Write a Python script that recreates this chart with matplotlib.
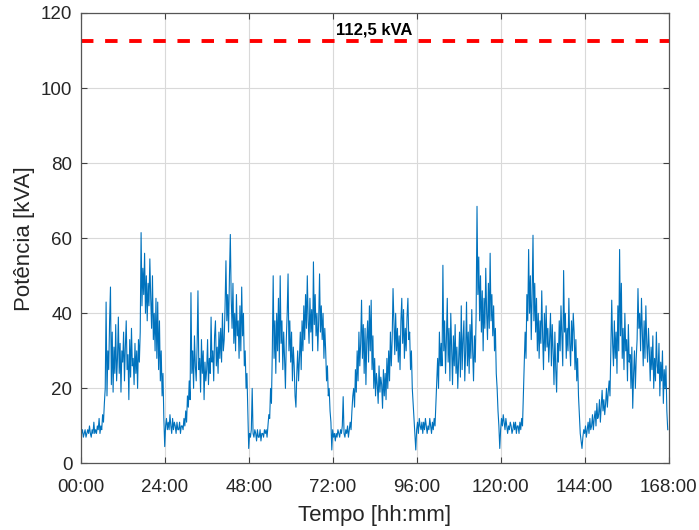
import numpy as np
import matplotlib
matplotlib.use("Agg")
import matplotlib.pyplot as plt

# Apparent power, 15-minute samples (4 per hour), one list per day
day1 = [11, 8, 9, 7, 8, 9, 7, 8, 9, 8, 10, 8, 7, 9, 8, 11, 8, 9, 8, 10, 9, 12, 8, 10,
        9, 13, 11, 16, 20, 43, 18, 30, 25, 38, 47, 21, 35, 19, 31, 24, 37, 22, 28, 39,
        24, 32, 19, 30, 27, 35, 22, 31, 38, 25, 29, 17, 33, 23, 36, 26, 28, 21, 32, 24,
        30, 20, 33, 27, 35, 61.5, 42, 52, 45, 56, 40, 50, 38, 48, 42, 54.5, 44, 36, 50, 33,
        40, 30, 44, 28, 43, 25, 38, 22, 30, 18, 24, 12]
day2 = [4.5, 10, 12, 9, 11, 9, 13, 10, 8, 12, 9, 11, 10, 8, 11, 9, 9, 11, 8, 10, 10, 9, 12, 10,
        14, 11, 18, 15, 22, 17, 45.5, 24, 30, 20, 34, 26, 22, 31, 46, 25, 28, 19, 33, 24,
        30, 17, 27, 22, 25, 33, 21, 28, 24, 39, 27, 30, 22, 34, 38, 26, 31, 24, 35, 28,
        36, 27, 40, 30, 33, 42, 54, 38, 45, 35, 50, 61, 44, 36, 48, 32, 40, 30, 45, 34,
        38, 28, 42, 30, 47, 34, 40, 26, 30, 20, 24, 14]
day3 = [4, 8, 7, 9, 20, 8, 7, 9, 8, 6, 9, 7, 7, 9, 6, 8, 8, 7, 9, 8, 9, 7, 10, 13,
        12, 20, 16, 30, 50, 28, 38, 24, 40, 30, 44, 27, 50, 32, 38, 25, 35, 28, 20, 33,
        40, 50.5, 30, 38, 27, 35, 22, 31, 26, 18, 15, 24, 30, 22, 28, 35, 25, 38, 30, 42,
        33, 45, 36, 50, 38, 32, 44, 35, 41, 30, 53.7, 37, 45, 34, 40, 30, 38, 50.5, 35, 42,
        33, 40, 28, 36, 30, 22, 26, 18, 20, 14, 11, 3.6]
day4 = [9, 7, 8, 6, 8, 7, 9, 8, 7, 9, 8, 10, 17.8, 8, 7, 9, 8, 10, 7, 9, 11, 9, 14, 18,
        20, 15, 25, 19, 30, 22, 35, 26, 32, 43.5, 28, 37, 24, 36, 21, 33, 38, 27, 42, 30,
        43.5, 25, 34, 20, 28, 18, 24, 21, 16, 26, 19, 23, 21, 14.7, 25, 18, 24, 17, 28, 20,
        30, 22, 35, 26, 33, 46.6, 38, 29, 40, 30, 36, 27, 34, 25, 38, 44, 32, 41, 28, 36,
        30, 39, 44, 33, 35, 25, 30, 20, 16, 12, 8, 3.6]
day5 = [9, 11, 8, 12, 10, 9, 11, 8, 11, 9, 12, 10, 8, 10, 9, 12, 10, 8, 11, 9, 12, 10, 16, 22,
        28, 20, 35, 26, 32, 26, 52.8, 30, 38, 24, 33, 44, 27, 36, 22, 40, 30, 21, 34, 26,
        37, 24, 31, 20, 28, 35, 23, 42, 25, 33, 38, 22, 30, 43, 26, 35, 24, 37, 28, 41,
        30, 22, 34, 27, 40, 68.5, 45, 55, 38, 50, 35, 46, 30, 44, 36, 52, 40, 33, 48, 36,
        56, 38, 45, 34, 42, 30, 36, 24, 20, 14, 10, 4]
day6 = [9, 12, 10, 13, 11, 9, 12, 10, 8, 10, 9, 11, 10, 8, 9, 11, 9, 11, 8, 10, 10, 8, 11, 9,
        12, 10, 18, 26, 35, 28, 45, 38, 57, 40, 50, 33, 45, 60.8, 38, 48, 35, 44, 30, 40,
        28, 38, 32, 46, 34, 25, 40, 30, 42, 31, 36, 27, 33, 40, 26, 37, 30, 21, 35, 25,
        19, 32, 27, 38, 30, 42, 34, 26, 51.4, 35, 40, 28, 36, 30, 44, 32, 26, 38, 30, 40,
        35, 25, 33, 22, 28, 18, 13, 8, 6, 4, 7, 9]
day7 = [8, 10, 7, 9, 11, 8, 12, 9, 10, 13, 9, 12, 14, 10, 16, 12, 13, 17, 11, 15, 19.5, 14, 17, 13,
        16, 20, 15, 19, 22, 18, 30, 43.5, 32, 26, 38, 28, 35, 24, 42, 30, 57, 34, 48, 28,
        36, 25, 40, 30, 33, 22, 37, 27, 29, 20, 31, 14.7, 24, 30, 20, 28, 33, 46.6, 36, 40,
        30, 44, 35, 26, 38, 28, 42, 32, 27, 36, 30, 22, 31, 25, 34, 20, 28, 22, 35, 26,
        24, 32, 18, 27, 22, 30, 16, 25, 20, 26, 14, 9]

power_kva = np.array(day1 + day2 + day3 + day4 + day5 + day6 + day7, dtype=float)
hours = np.arange(power_kva.size) * 0.25

transformer_kva = 112.5
transformer_label = "112,5 kVA"
x_ticks = list(range(0, 169, 24))
x_tick_labels = [f"{h:02d}:00" for h in x_ticks]
y_ticks = list(range(0, 121, 20))

plt.rcParams["font.family"] = ["Liberation Sans", "DejaVu Sans"]
text_color = "#262626"

fig = plt.figure(figsize=(6.99, 5.30), dpi=100)
ax = fig.add_axes([0.1155, 0.1255, 0.841, 0.85])

ax.plot(hours, power_kva, color="#0072BD", linewidth=0.8)
ax.axhline(transformer_kva, color="#FF0000", linewidth=2.8, dashes=(3.2, 3.0))
ax.text(84, transformer_kva + 1.0, transformer_label, ha="center", va="bottom",
        fontsize=12, fontweight="bold", color="black")

ax.set_xlim(0, 168)
ax.set_ylim(0, 120)
ax.set_xticks(x_ticks)
ax.set_xticklabels(x_tick_labels)
ax.set_yticks(y_ticks)
ax.grid(True, color="#d9d9d9", linewidth=0.8)
ax.set_axisbelow(True)

ax.tick_params(direction="in", length=4, width=0.8, colors="#404040",
               labelcolor=text_color, labelsize=13.5, top=True, right=True)
ax.tick_params(axis="x", pad=11)
ax.tick_params(axis="y", pad=6)
for s in ax.spines.values():
    s.set_color("#555555")
    s.set_linewidth(0.9)

ax.set_xlabel("Tempo [hh:mm]", fontsize=16, color=text_color, labelpad=7)
ax.set_ylabel("Potência [kVA]", fontsize=16, color=text_color, labelpad=4)

fig.savefig("out.png", dpi=100)
